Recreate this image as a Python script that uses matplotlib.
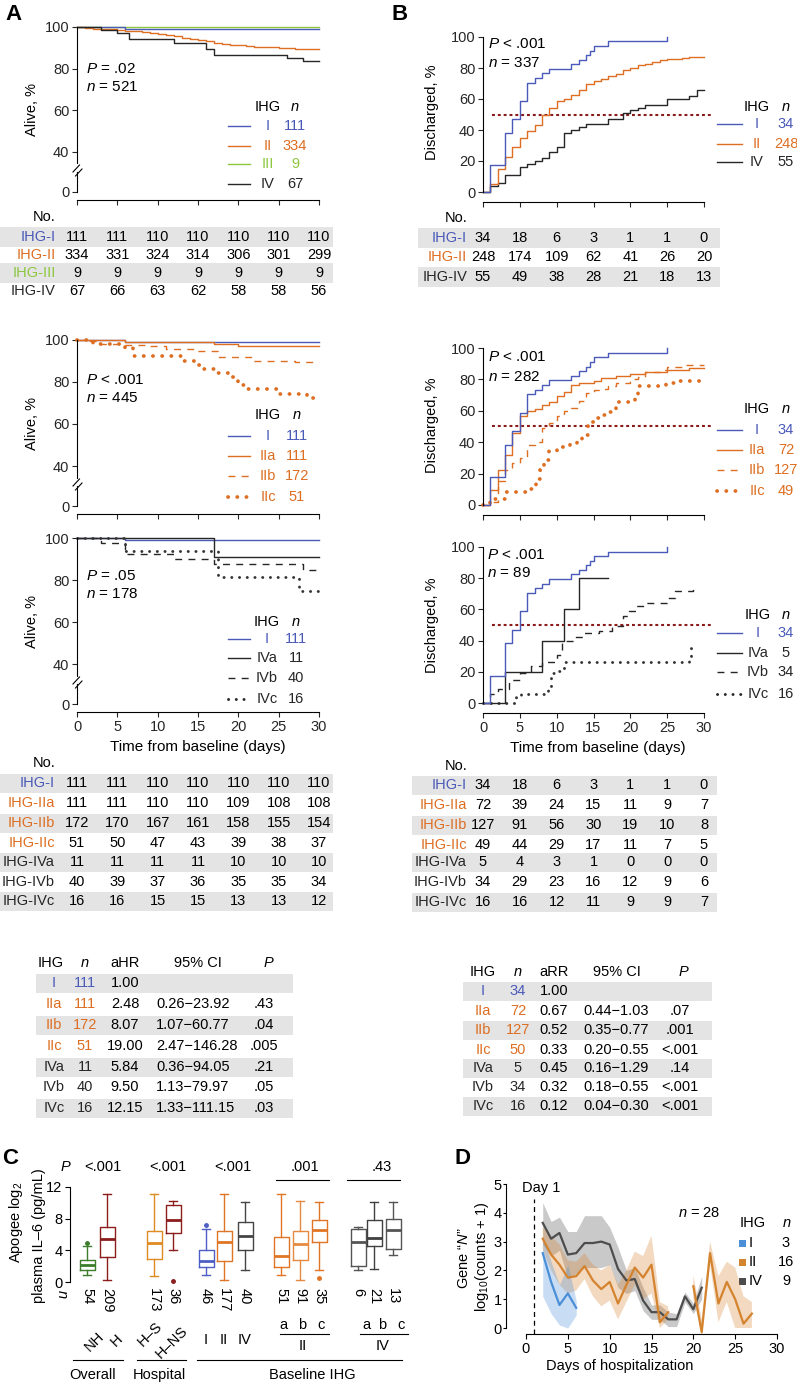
import numpy as np
import matplotlib.pyplot as plt
from matplotlib.lines import Line2D
from matplotlib.patches import Rectangle

W, H = 797, 1384
plt.rcParams['font.family'] = ['Liberation Sans', 'DejaVu Sans']
plt.rcParams['mathtext.fontset'] = 'custom'
plt.rcParams['mathtext.rm'] = 'Liberation Sans'
plt.rcParams['mathtext.it'] = 'Liberation Sans:italic'
plt.rcParams['font.size'] = 10
plt.rcParams['axes.linewidth'] = 0.8

BLUE = '#4a5ab8'
ORANGE = '#dd6e22'
GREEN = '#8dc63f'
BLACK = '#262626'
DKRED = '#8b1a1a'
ROWGRAY = '#e4e4e4'
nan = np.nan

# ---------------- data: panel A (survival, %) ----------------
tab_days = [0, 5, 10, 15, 20, 25, 30]

a1_I_t, a1_I_s = [0, 6, 30], [100, 99.1, 99.1]
a1_II_t = [0, 1, 2, 4, 5, 6, 8, 9, 10, 11, 12, 13, 14, 15, 16, 17, 18, 19, 21, 22, 25, 27, 30]
a1_II_s = [100, 99.4, 99.1, 98.8, 98.5, 98.2, 97.6, 97.3, 96.7, 96.1, 95.5, 94.9, 94.3, 93.7,
           93.1, 92.2, 91.6, 91.3, 90.7, 90.4, 90.1, 89.5, 89.5]
a1_III_t, a1_III_s = [0, 30], [100, 100]
a1_IV_t = [0, 3, 5, 6.5, 12, 16, 17, 26, 28, 30]
a1_IV_s = [100, 98.5, 97.0, 94.0, 92.5, 89.6, 86.6, 85.1, 83.6, 83.6]

a2_IIa_t, a2_IIa_s = [0, 6, 17, 20, 30], [100, 99.1, 98.2, 97.3, 97.3]
a2_IIb_t = [0, 1, 2.5, 6, 9, 11, 15, 17.5, 22, 27, 30]
a2_IIb_s = [100, 99.4, 98.2, 97.6, 97.0, 95.6, 94.6, 91.8, 90.1, 89.3, 89.3]
a2_IIc_t = [0, 2, 6, 7, 13, 14.5, 15.5, 17.5, 19, 20, 21, 25, 28.5, 30]
a2_IIc_s = [100, 98.0, 96.1, 92.2, 90.2, 88.2, 86.3, 84.3, 82.4, 78.4, 76.5, 74.5, 72.5, 72.5]

a3_IVa_t, a3_IVa_s = [0, 17, 30], [100, 90.9, 90.9]
a3_IVb_t = [0, 3, 6, 12, 17, 28, 30]
a3_IVb_s = [100, 97.5, 92.5, 90.0, 87.5, 85.0, 85.0]
a3_IVc_t = [0, 6, 17.5, 27.5, 30]
a3_IVc_s = [100, 93.75, 81.25, 75.0, 75.0]

a1_risk = {'IHG-I': [111, 111, 110, 110, 110, 110, 110],
           'IHG-II': [334, 331, 324, 314, 306, 301, 299],
           'IHG-III': [9, 9, 9, 9, 9, 9, 9],
           'IHG-IV': [67, 66, 63, 62, 58, 58, 56]}
a2_risk = {'IHG-I': [111, 111, 110, 110, 110, 110, 110],
           'IHG-IIa': [111, 111, 110, 110, 109, 108, 108],
           'IHG-IIb': [172, 170, 167, 161, 158, 155, 154],
           'IHG-IIc': [51, 50, 47, 43, 39, 38, 37],
           'IHG-IVa': [11, 11, 11, 11, 10, 10, 10],
           'IHG-IVb': [40, 39, 37, 36, 35, 35, 34],
           'IHG-IVc': [16, 16, 15, 15, 13, 13, 12]}

# ---------------- data: panel B (discharged, %) ----------------
b_I_t = [0, 1, 3, 4, 5, 6, 7, 8, 9, 12, 13, 14, 14.5, 15, 17, 25]
b_I_s = [0, 17.6, 38.2, 47.1, 58.8, 70.6, 73.5, 76.5, 79.4, 82.4, 85.3, 88.2, 91.2, 94.1, 97.1, 100]
b1_II_t = [0, 1, 2, 3, 4, 5, 6, 7, 8, 9, 10, 11, 12, 13, 14, 15, 16, 17, 18, 19, 20, 21, 22,
           23, 24, 25, 26, 27, 28, 30]
b1_II_s = [0, 5, 15, 22.6, 29, 34.7, 39.5, 43.5, 49.5, 54, 58.5, 60, 62.4, 66, 70, 71.4, 73,
           75, 76.4, 78.5, 80, 81.7, 82.7, 84, 85, 85.5, 86, 86.5, 87, 87]
b1_IV_t = [0, 1, 2, 3, 5, 6, 7, 8, 9, 10, 11, 12, 13, 14, 17, 19, 20, 21, 22, 25, 28, 29, 30]
b1_IV_s = [0, 3.6, 5.5, 11, 16.4, 18.2, 20, 21.8, 25.5, 29.1, 38.2, 40, 41.8, 43.6, 47.3,
           50.9, 52.7, 54.5, 56.4, 60, 62, 65.5, 65.5]

b2_IIa_t = [0, 1, 2, 3, 4, 5, 6, 7, 8, 9, 10, 11, 12, 13, 15, 16, 18, 20, 22, 25, 28, 30]
b2_IIa_s = [0, 9.7, 22.2, 31.9, 45.8, 56.9, 59.7, 61.1, 63.9, 65.3, 69.4, 72.2, 76.4, 77.8,
            79.2, 80.6, 81.9, 83.3, 84.7, 86.1, 87.5, 87.5]
b2_IIb_t = [0, 1, 2, 3, 4, 5, 6, 7, 8, 9, 10, 11, 12, 13, 14, 15, 16, 17, 18, 20, 21, 22, 24,
            25, 27, 30]
b2_IIb_s = [0, 2, 15, 22, 27, 30, 38, 40, 49, 52, 57, 60, 61.5, 66.5, 71.5, 73, 74, 76, 78,
            80, 81.4, 84.6, 86, 87.8, 89, 89.4]
b2_IIc_t = [0, 1, 3, 6, 7.2, 7.7, 8.3, 9, 10, 11.8, 12.7, 13.4, 14, 14.3, 14.8, 15.3, 15.9,
            16.5, 18, 20.7, 21, 24.9, 26, 30]
b2_IIc_s = [0, 4.1, 8.2, 10.2, 16.3, 22.4, 28.6, 34.7, 36.7, 38.8, 40.8, 42.9, 44.9, 51.0,
            53.1, 55.1, 57.1, 59.2, 65.3, 69.4, 75.5, 77.6, 78.8, 78.8]

b3_IVa_t, b3_IVa_s = [0, 3, 8, 11, 13, 17], [0, 20, 40, 60, 80, 80]
b3_IVb_t = [0, 0.9, 2, 3.5, 5, 6.5, 8, 10, 10.7, 12.5, 13.7, 15.8, 17.5, 19, 19.8, 20.8, 22,
            25, 26, 28.5]
b3_IVb_s = [0, 5.9, 8.8, 14.7, 19, 23.5, 26.5, 31, 39.6, 42.4, 45, 46, 49.3, 55.7, 59, 62,
            64, 67.5, 71.5, 75]
b3_IVc_t = [0, 4.5, 5.2, 8.8, 9.2, 10, 11, 28, 28.3, 29.2]
b3_IVc_s = [0, 4.3, 6.0, 8.6, 19.3, 20.8, 26.4, 30.4, 35.4, 35.4]
half_line = 50

b1_risk = {'IHG-I': [34, 18, 6, 3, 1, 1, 0],
           'IHG-II': [248, 174, 109, 62, 41, 26, 20],
           'IHG-IV': [55, 49, 38, 28, 21, 18, 13]}
b2_risk = {'IHG-I': [34, 18, 6, 3, 1, 1, 0],
           'IHG-IIa': [72, 39, 24, 15, 11, 9, 7],
           'IHG-IIb': [127, 91, 56, 30, 19, 10, 8],
           'IHG-IIc': [49, 44, 29, 17, 11, 7, 5],
           'IHG-IVa': [5, 4, 3, 1, 0, 0, 0],
           'IHG-IVb': [34, 29, 23, 16, 12, 9, 6],
           'IHG-IVc': [16, 16, 12, 11, 9, 9, 7]}

# ---------------- hazard / rate ratio tables ----------------
sub_ihg = ['I', 'IIa', 'IIb', 'IIc', 'IVa', 'IVb', 'IVc']
ahr_n = [111, 111, 172, 51, 11, 40, 16]
ahr_val = [1.00, 2.48, 8.07, 19.00, 5.84, 9.50, 12.15]
ahr_ci = ['', '0.26−23.92', '1.07−60.77', '2.47−146.28', '0.36−94.05', '1.13−79.97', '1.33−111.15']
ahr_p = ['', '.43', '.04', '.005', '.21', '.05', '.03']
arr_n = [34, 72, 127, 50, 5, 34, 16]
arr_val = [1.00, 0.67, 0.52, 0.33, 0.45, 0.32, 0.12]
arr_ci = ['', '0.44−1.03', '0.35−0.77', '0.20−0.55', '0.16−1.29', '0.18−0.55', '0.04−0.30']
arr_p = ['', '.07', '.001', '<.001', '.14', '<.001', '<.001']

# ---------------- panel C: IL-6 boxes ----------------
c_labels = ['NH', 'H', 'H–S', 'H–NS', 'I', 'II', 'IV', 'a', 'b', 'c', 'a', 'b', 'c']
c_whislo = [0.84, 0.3, 0.72, 4.08, 0.93, 0.3, 1.47, 0.93, 0.3, 1.47, 1.47, 1.68, 3.37]
c_q1 = [1.47, 3.12, 2.86, 6.23, 1.89, 2.69, 4.08, 1.89, 2.78, 5.0, 2.02, 4.55, 4.13]
c_med = [2.1, 5.39, 4.97, 7.79, 2.65, 5.05, 5.77, 3.28, 4.8, 6.53, 5.05, 5.6, 6.61]
c_q3 = [2.74, 6.95, 6.4, 9.68, 4.0, 6.48, 7.58, 5.68, 6.4, 7.79, 6.65, 7.79, 8.0]
c_whishi = [4.6, 11.07, 11.07, 10.2, 6.74, 11.07, 10.1, 11.07, 10.19, 10.1, 6.95, 10.1, 10.1]
c_fliers = [[4.95], [], [], [0.13], [7.16], [], [], [], [], [0.55], [], [], []]
c_n = [54, 209, 173, 36, 46, 177, 40, 51, 91, 35, 6, 21, 13]
c_p = ['<.001', '<.001', '<.001', '.001', '.43']
c_colors = ['#3b7d2b', '#8b1d1d', '#e08a22', '#8b1d1d', '#4d5fc4', '#e07525', '#454545',
            '#e07525', '#e58a40', '#e07525', '#555555', '#404040', '#555555']

# ---------------- panel D: gene N over days ----------------
d_days = list(range(2, 28))
d_I = [2.6, 1.6, 0.8, 1.2, 0.7] + [nan] * 21
d_I_lo = [1.1, 0.5, 0.1, 0.0, 0.45] + [nan] * 21
d_I_hi = [3.2, 2.3, 1.5, 2.2, 0.95] + [nan] * 21
d_II = [3.1, 2.55, 2.2, 1.75, 1.8, 2.15, 1.65, 1.35, 1.6, 0.85, 1.5, 2.1, 1.75, 2.2, 0.2, 0.55,
        nan, nan, 1.45, -0.15, 2.6, 0.85, 1.6, 1.0, 0.15, 0.5]
d_II_lo = [2.7, 2.0, 1.5, 1.2, 1.3, 1.7, 1.1, 0.75, 0.95, 0.3, 0.9, 1.5, 1.0, 1.2, 0.0, 0.3,
           nan, nan, 1.0, -0.15, 2.2, 0.2, 0.9, 0.0, 0.0, 0.0]
d_II_hi = [3.5, 3.2, 2.9, 2.35, 2.3, 2.6, 2.2, 2.0, 2.2, 1.5, 2.0, 2.65, 2.5, 3.2, 0.9, 0.75,
           nan, nan, 1.85, 0.3, 3.0, 1.8, 2.3, 2.1, 1.1, 0.9]
d_IV = [3.65, 3.1, 3.3, 2.55, 2.6, 2.95, 2.95, 3.0, 2.9, 2.05, 1.65, 1.7, 0.95, 0.55, 0.55, 0.3,
        0.3, 1.1, 0.65, 1.4] + [nan] * 6
d_IV_lo = [2.9, 2.5, 2.7, 1.7, 1.9, 2.1, 2.1, 2.1, 2.2, 1.4, 1.2, 1.3, 0.6, 0.3, 0.3, 0.05, 0.05,
           0.9, 0.5, 1.0] + [nan] * 6
d_IV_hi = [4.35, 3.7, 3.85, 3.35, 3.35, 3.9, 3.9, 3.9, 3.5, 2.8, 2.0, 2.1, 1.4, 0.8, 0.8, 0.55,
           0.5, 1.25, 0.85, 1.8] + [nan] * 6
d_groups = ['I', 'II', 'IV']
d_n = [3, 16, 9]
d_colors = ['#4a8fd8', '#d4832f', '#4d4d4d']

# ================= drawing =================
fig = plt.figure(figsize=(W / 100, H / 100), dpi=100)


def fx(x):
    return x / W


def fy(y):
    return 1 - y / H


def txt(x, y, s, **kw):
    kw.setdefault('ha', 'center')
    kw.setdefault('va', 'center')
    kw.setdefault('fontsize', 10)
    return fig.text(fx(x), fy(y), s, **kw)


def seg(xs, ys, **kw):
    kw.setdefault('color', 'black')
    kw.setdefault('lw', 0.8)
    fig.add_artist(Line2D([fx(v) for v in xs], [fy(v) for v in ys], **kw))


def band(x0, x1, y0, y1, color=ROWGRAY):
    fig.add_artist(Rectangle((fx(x0), fy(y1)), (x1 - x0) / W, (y1 - y0) / H,
                             facecolor=color, edgecolor='none', zorder=-5))


def axes_at(xmap, ymap, xlim, ylim):
    xa, va, xb, vb = xmap
    sx = (xb - xa) / (vb - va)
    left, right = xa + (xlim[0] - va) * sx, xa + (xlim[1] - va) * sx
    ya, wa, yb, wb = ymap
    sy = (yb - ya) / (wb - wa)
    top, bottom = ya + (ylim[1] - wa) * sy, ya + (ylim[0] - wa) * sy
    ax = fig.add_axes([fx(left), fy(bottom), (right - left) / W, (bottom - top) / H])
    ax.set_xlim(xlim)
    ax.set_ylim(ylim)
    ax.patch.set_visible(False)
    return ax


SOLID = dict(ls='-', lw=1.0)
DASH = dict(ls=(0, (5, 4.5)), lw=1.0)
DOT = dict(ls=(0, (0.05, 2.4)), lw=2.7, dash_capstyle='round')
SDOT = dict(ls=(0, (0.05, 2.6)), lw=2.1, dash_capstyle='round')

A_X = (77, 0, 319, 30)
B_X = (483, 0, 704, 30)
YBOT = 20.9


def km_axes(xmap, ymap, ylim, broken, labels_on):
    ax = axes_at(xmap, ymap, (0, 30), ylim)
    for s in ('top', 'right'):
        ax.spines[s].set_visible(False)
    ax.spines['bottom'].set_position(('outward', 5.8))
    ax.spines['bottom'].set_bounds(0, 30)
    ax.set_xticks(range(0, 31, 5))
    ax.tick_params(length=3.5, width=0.8, labelsize=10.5, pad=2, colors=BLACK)
    if not labels_on:
        ax.tick_params(axis='x', labelbottom=False)
    if broken:
        ax.set_yticks([ylim[0], 40, 60, 80, 100], ['0', '40', '60', '80', '100'])
        ax.spines['left'].set_bounds(34.5, 100)
        ax.plot([0, 0], [ylim[0], 30.5], color='black', lw=0.8, clip_on=False)
    else:
        ax.set_yticks(range(0, 101, 20))
        ax.spines['left'].set_bounds(0, 100)
    return ax


def km_break(y40):
    seg([73, 79.5], [y40 + 20, y40 + 13])
    seg([75.5, 82], [y40 + 24, y40 + 17])


def curve(ax, t, s, color, style):
    ax.plot(t, s, drawstyle='steps-post', color=color, clip_on=False, **style)


def km_legend(xl0, xl1, xlab, xn, y_head, ys, labels, ns, colors, styles):
    txt(xlab, y_head, 'IHG', fontsize=10.5)
    txt(xn, y_head, 'n', style='italic', fontsize=10.5)
    for y, lab, n, c, st in zip(ys, labels, ns, colors, styles):
        seg([xl0, xl1], [y, y], color=c, **st)
        txt(xlab, y, lab, color=c, fontsize=10.5)
        txt(xn, y, str(n), color=c, fontsize=10.5)


def risk_table(xmap, x_lab, y_no, y_rows, risk, colors, bx):
    xa, va, xb, vb = xmap
    txt(x_lab, y_no, 'No.', ha='right', fontsize=10.5)
    for i, ((lab, vals), y, c) in enumerate(zip(risk.items(), y_rows, colors)):
        if i % 2 == 0:
            band(bx[0], bx[1], y - 9.5, y + 9.5)
        txt(x_lab, y, lab, ha='right', color=c, fontsize=10.5)
        for d, v in zip(tab_days, vals):
            txt(xa + (d - va) * (xb - xa) / (vb - va), y, str(v), fontsize=10.5)


# ---- Panel A ----
txt(13, 15, 'A', fontsize=16, fontweight='bold')
ax = km_axes(A_X, (27, 100, 152, 40), (YBOT, 101.5), True, False)
km_break(152)
curve(ax, a1_III_t, a1_III_s, GREEN, SOLID)
curve(ax, a1_I_t, a1_I_s, BLUE, SOLID)
curve(ax, a1_II_t, a1_II_s, ORANGE, SOLID)
curve(ax, a1_IV_t, a1_IV_s, BLACK, SOLID)
txt(32, 110, 'Alive, %', rotation=90, fontsize=10.5)
txt(86, 69, '$P$ = .02', ha='left', fontsize=11)
txt(86, 87, '$n$ = 521', ha='left', fontsize=11)
km_legend(228, 250, 268, 295, 107, [126, 146, 164, 184], ['I', 'II', 'III', 'IV'],
          [111, 334, 9, 67], [BLUE, ORANGE, GREEN, BLACK], [SOLID] * 4)
risk_table(A_X, 56, 217, [237, 255, 273, 291], a1_risk, [BLUE, ORANGE, GREEN, BLACK], (0, 333))

ax = km_axes(A_X, (340, 100, 466, 40), (YBOT, 101.5), True, False)
km_break(466)
curve(ax, a1_I_t, a1_I_s, BLUE, SOLID)
curve(ax, a2_IIa_t, a2_IIa_s, ORANGE, SOLID)
curve(ax, a2_IIb_t, a2_IIb_s, ORANGE, DASH)
curve(ax, a2_IIc_t, a2_IIc_s, ORANGE, DOT)
txt(32, 423, 'Alive, %', rotation=90, fontsize=10.5)
txt(86, 380, '$P$ < .001', ha='left', fontsize=11)
txt(86, 398, '$n$ = 445', ha='left', fontsize=11)
km_legend(228, 250, 268, 297, 415, [436, 456, 476, 497], ['I', 'IIa', 'IIb', 'IIc'],
          [111, 111, 172, 51], [BLUE] + [ORANGE] * 3, [SOLID, SOLID, DASH, DOT])

ax = km_axes(A_X, (538, 100, 664, 40), (YBOT, 101.5), True, True)
km_break(664)
curve(ax, a1_I_t, a1_I_s, BLUE, SOLID)
curve(ax, a3_IVa_t, a3_IVa_s, BLACK, SOLID)
curve(ax, a3_IVb_t, a3_IVb_s, BLACK, DASH)
curve(ax, a3_IVc_t, a3_IVc_s, '#333333', SDOT)
txt(32, 621, 'Alive, %', rotation=90, fontsize=10.5)
txt(86, 576, '$P$ = .05', ha='left', fontsize=11)
txt(86, 594, '$n$ = 178', ha='left', fontsize=11)
km_legend(228, 250, 267, 296, 622, [639, 658, 678, 699], ['I', 'IVa', 'IVb', 'IVc'],
          [111, 11, 40, 16], [BLUE] + [BLACK] * 3, [SOLID, SOLID, DASH, SDOT])
txt(198, 747, 'Time from baseline (days)', fontsize=11)
risk_table(A_X, 55, 763, [783, 803, 823, 843, 862, 882, 901], a2_risk,
           [BLUE] + [ORANGE] * 3 + [BLACK] * 3, (0, 333))

# ---- Panel B ----
txt(400, 14, 'B', fontsize=16, fontweight='bold')


def half(ax):
    ax.plot([1.2, 31], [half_line, half_line], color=DKRED, lw=1.5, ls=(0, (1.4, 1.4)),
            clip_on=False, zorder=1)


ax = km_axes(B_X, (37, 100, 192, 0), (-1.5, 102), False, False)
half(ax)
curve(ax, b1_IV_t, b1_IV_s, BLACK, SOLID)
curve(ax, b1_II_t, b1_II_s, ORANGE, SOLID)
curve(ax, b_I_t, b_I_s, BLUE, SOLID)
txt(432, 112, 'Discharged, %', rotation=90, fontsize=10.5)
txt(488, 44, '$P$ < .001', ha='left', fontsize=11)
txt(488, 63, '$n$ = 337', ha='left', fontsize=11)
km_legend(717, 742, 757, 786, 107, [124, 144, 162], ['I', 'II', 'IV'], [34, 248, 55],
          [BLUE, ORANGE, BLACK], [SOLID] * 3)
risk_table(B_X, 467, 218, [238, 257, 277], b1_risk, [BLUE, ORANGE, BLACK], (418, 720))

ax = km_axes(B_X, (348, 100, 505, 0), (-1.5, 102), False, False)
half(ax)
curve(ax, b2_IIc_t, b2_IIc_s, ORANGE, DOT)
curve(ax, b2_IIb_t, b2_IIb_s, ORANGE, DASH)
curve(ax, b2_IIa_t, b2_IIa_s, ORANGE, SOLID)
curve(ax, b_I_t, b_I_s, BLUE, SOLID)
txt(432, 425, 'Discharged, %', rotation=90, fontsize=10.5)
txt(488, 357, '$P$ < .001', ha='left', fontsize=11)
txt(488, 377, '$n$ = 282', ha='left', fontsize=11)
km_legend(717, 742, 757, 786, 409, [430, 450, 470, 491], ['I', 'IIa', 'IIb', 'IIc'],
          [34, 72, 127, 49], [BLUE] + [ORANGE] * 3, [SOLID, SOLID, DASH, DOT])

ax = km_axes(B_X, (547, 100, 703, 0), (-1.5, 102), False, True)
half(ax)
curve(ax, b3_IVc_t, b3_IVc_s, '#333333', SDOT)
curve(ax, b3_IVb_t, b3_IVb_s, BLACK, DASH)
curve(ax, b3_IVa_t, b3_IVa_s, BLACK, SOLID)
curve(ax, b_I_t, b_I_s, BLUE, SOLID)
txt(432, 625, 'Discharged, %', rotation=90, fontsize=10.5)
txt(487, 555, '$P$ < .001', ha='left', fontsize=11)
txt(487, 573, '$n$ = 89', ha='left', fontsize=11)
km_legend(717, 742, 758, 786, 615, [633, 653, 672, 694], ['I', 'IVa', 'IVb', 'IVc'],
          [34, 5, 34, 16], [BLUE] + [BLACK] * 3, [SOLID, SOLID, DASH, SDOT])
txt(598, 748, 'Time from baseline (days)', fontsize=11)
risk_table(B_X, 467, 766, [785, 805, 825, 845, 862, 882, 902], b2_risk,
           [BLUE] + [ORANGE] * 3 + [BLACK] * 3, (412, 717))

# ---- ratio tables ----
row_cols = [BLUE] + [ORANGE] * 3 + [BLACK] * 3


def ratio_table(x_cols, y_head, ys, bx, stat, ns, vals, cis, ps, head_x):
    heads = ['IHG', 'n', stat, '95% CI', 'P']
    for h, x in zip(heads, head_x):
        txt(x, y_head, h, fontsize=10.5, style='italic' if h in ('n', 'P') else 'normal')
    for i, (y, g, n, v, ci, p) in enumerate(zip(ys, sub_ihg, ns, vals, cis, ps)):
        if i % 2 == 0:
            band(bx[0], bx[1], y - 9.5, y + 9.5)
        txt(x_cols[0], y, g, color=row_cols[i], fontsize=10.5)
        txt(x_cols[1], y, str(n), color=row_cols[i], fontsize=10.5)
        txt(x_cols[2], y, f'{v:.2f}', fontsize=10.5)
        txt(x_cols[3], y, ci, ha='left', fontsize=10.5)
        txt(x_cols[4], y, p, fontsize=10.5)


ratio_table([54, 85, 125, 156, 264], 963, [983, 1004, 1025, 1046, 1067, 1087, 1108], (36, 293),
            'aHR', ahr_n, ahr_val, ahr_ci, ahr_p, [51, 85, 125, 198, 268])
ratio_table([483, 518, 554, 583, 680], 972, [991, 1011, 1030, 1050, 1068, 1087, 1106], (463, 712),
            'aRR', arr_n, arr_val, arr_ci, arr_p, [483, 518, 554, 617, 683])

# ---- Panel C ----
txt(10, 1158, 'C', fontsize=16, fontweight='bold')
cpos = [87, 107, 154, 173, 206, 224, 245, 281, 300, 319, 358, 374, 393]
ax = axes_at((0, 0, 100, 100), (1187, 12, 1282, 0), (70, 410), (-0.4, 12.3))
for s in ('top', 'right', 'bottom'):
    ax.spines[s].set_visible(False)
ax.spines['left'].set_bounds(0, 12)
ax.set_xticks([])
ax.set_yticks([0, 4, 8, 12])
ax.tick_params(length=3.5, width=0.8, labelsize=10.5, pad=2)
for i, c in enumerate(c_colors):
    st = dict(whislo=c_whislo[i], q1=c_q1[i], med=c_med[i], q3=c_q3[i],
              whishi=c_whishi[i], fliers=c_fliers[i])
    lp = dict(color=c, lw=1.0)
    ax.bxp([st], positions=[cpos[i]], widths=15, capwidths=8, manage_ticks=False,
           boxprops=lp, whiskerprops=lp, capprops=lp,
           medianprops=dict(color=c, lw=2.0),
           flierprops=dict(marker='o', markersize=2.5, markerfacecolor=c, markeredgecolor=c))

txt(16, 1222, 'Apogee log$_2$', rotation=90, fontsize=10.5)
txt(39, 1236, 'plasma IL–6 (pg/mL)', rotation=90, fontsize=10.5)
txt(65, 1167, 'P', style='italic', fontsize=10.5)
for x, p in zip([103, 168, 233, 305, 382], c_p):
    txt(x, 1167, p, fontsize=10.5)
seg([276, 329], [1180, 1180])
seg([347, 400], [1180, 1180])
txt(62, 1290, 'n', style='italic', rotation=-90, va='top', fontsize=10.5)
for x, n in zip(cpos, c_n):
    txt(x, 1288, str(n), rotation=-90, va='top', fontsize=10.5)
# anchors of the slanted group names (right end of each word)
slant_dx = [14.5, 13.5, 6.5, 12.5]
slant_y = [1334, 1337, 1324, 1329]
for i in range(4):
    txt(cpos[i] + slant_dx[i], slant_y[i], c_labels[i], rotation=45, ha='right', va='center',
        rotation_mode='anchor', fontsize=10.5)
for i in range(4, 7):
    txt(cpos[i], 1340, c_labels[i], fontsize=10.5)
for i in range(7, 10):
    txt(cpos[i] + 2, 1325, c_labels[i], fontsize=10.5)
for i in range(10, 13):
    txt(cpos[i] + 8, 1325, c_labels[i], fontsize=10.5)
seg([280, 329], [1334, 1334])
seg([360, 408], [1334, 1334])
txt(303, 1346, 'II', fontsize=10.5)
txt(383, 1346, 'IV', fontsize=10.5)
seg([73, 123], [1360, 1360])
seg([137, 186], [1360, 1360])
seg([197, 402], [1360, 1360])
txt(93, 1375, 'Overall', fontsize=10.5)
txt(159, 1375, 'Hospital', fontsize=10.5)
txt(312, 1375, 'Baseline IHG', fontsize=10.5)

# ---- Panel D ----
txt(462, 1158, 'D', fontsize=16, fontweight='bold')
ax = axes_at((526, 0, 777, 30), (1184, 5, 1328, 0), (-2.4, 30.5), (-0.21, 5.0))
for s in ('top', 'right'):
    ax.spines[s].set_visible(False)
ax.spines['bottom'].set_bounds(0, 30)
ax.spines['left'].set_bounds(0, 5)
ax.set_xticks(range(0, 31, 5))
ax.set_yticks(range(0, 6))
ax.tick_params(axis='x', length=3.5, width=0.8, labelsize=10.5, pad=2)
ax.tick_params(axis='y', length=2.0, width=0.8, labelsize=10.5, pad=1)
ax.axvline(1, ymin=0, ymax=0.9, color='black', lw=0.9, ls=(0, (4, 3)))
for mean, lo, hi, c in [(d_IV, d_IV_lo, d_IV_hi, d_colors[2]),
                        (d_II, d_II_lo, d_II_hi, d_colors[1]),
                        (d_I, d_I_lo, d_I_hi, d_colors[0])]:
    ax.fill_between(d_days, lo, hi, color=c, alpha=0.3, lw=0)
    ax.plot(d_days, mean, color=c, lw=1.6, clip_on=False)
txt(522, 1188, 'Day 1', ha='left', fontsize=10.5)
txt(699, 1213, '$n$ = 28', fontsize=10.5)
txt(464, 1258, 'Gene “$N$”', rotation=90, fontsize=10.5)
txt(482, 1257, 'log$_{10}$(counts + 1)', rotation=90, fontsize=10.5)
txt(620, 1366, 'Days of hospitalization', fontsize=10.5)
txt(740, 1223, 'IHG', ha='left', fontsize=10.5)
txt(787, 1223, 'n', style='italic', fontsize=10.5)
for y, g, n, c in zip([1243, 1262, 1281], d_groups, d_n, d_colors):
    band(739, 746, y - 3.5, y + 3.5, color=c)
    txt(749, y, g, ha='left', fontsize=10.5)
    txt(786, y, str(n), fontsize=10.5)

fig.savefig('out.png', dpi=100)
